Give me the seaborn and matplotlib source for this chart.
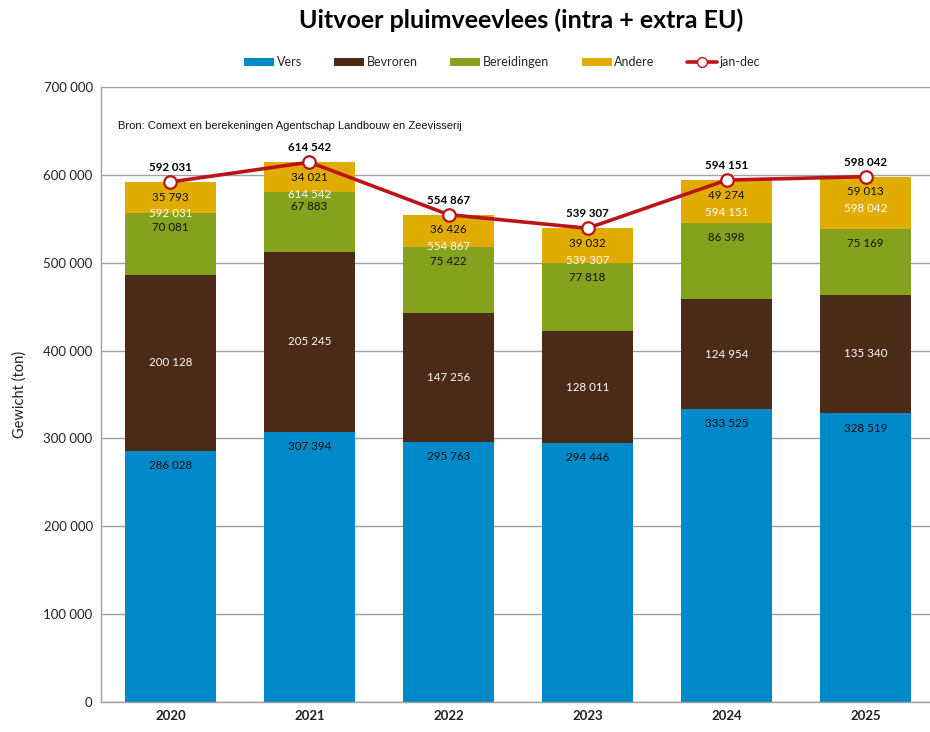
import numpy as np
import pandas as pd
import matplotlib
matplotlib.use("Agg")
import matplotlib.pyplot as plt
from matplotlib.patches import Patch
from matplotlib.lines import Line2D
import seaborn as sns

years = ["2020", "2021", "2022", "2023", "2024", "2025"]
vers = [286028, 307394, 295763, 294446, 333525, 328519]
bevroren = [200128, 205245, 147256, 128011, 124954, 135340]
bereidingen = [70081, 67883, 75422, 77818, 86398, 75169]
andere = [35793, 34021, 36426, 39032, 49274, 59013]
totaal = [592031, 614542, 554867, 539307, 594151, 598042]

series_names = ["Vers", "Bevroren", "Bereidingen", "Andere"]
series_vals = [vers, bevroren, bereidingen, andere]
colors = ["#0089C8", "#4B2A17", "#86A11B", "#E0AC00"]
line_color = "#BA1419"

sns.set_theme(style="white")
plt.rcParams["font.family"] = ["Lato", "DejaVu Sans"]

def fmt(v):
    return f"{v:,}".replace(",", " ")

fig = plt.figure(figsize=(9.30, 7.32), dpi=100)
ax = fig.add_axes([0.1086, 0.041, 0.8914, 0.840])

df = pd.DataFrame({"jaar": years})
bottom = np.zeros(len(years))
for name, vals, col in zip(series_names, series_vals, colors):
    df[name] = vals
    sns.barplot(data=df, x="jaar", y=name, color=col, width=0.65,
                bottom=bottom, ax=ax, saturation=1, linewidth=0, zorder=2)
    bottom = bottom + np.array(vals)

xpos = np.arange(len(years))
sns.lineplot(x=xpos, y=totaal, ax=ax, color=line_color, linewidth=2.6,
             marker="o", markersize=9, markerfacecolor="white",
             markeredgecolor=line_color, markeredgewidth=1.6, zorder=5)

# labels
lab_kw = dict(fontsize=8.3, ha="center", textcoords="offset points")
for i in range(len(years)):
    b0 = 0
    for j, vals in enumerate(series_vals):
        v = vals[i]
        top = b0 + v
        if j == 1:
            ax.annotate(fmt(v), (xpos[i], b0 + v / 2), xytext=(0, 0), va="center",
                        color="white", **lab_kw)
        elif j == 3:
            ax.annotate(fmt(v), (xpos[i], top), xytext=(0, -11), va="center",
                        color="#111111", **lab_kw)
            ax.annotate(fmt(totaal[i]), (xpos[i], top), xytext=(0, -23), va="center",
                        color="white", **lab_kw)
        else:
            ax.annotate(fmt(v), (xpos[i], top), xytext=(0, -10.5), va="center",
                        color="#111111", **lab_kw)
        b0 = top
    ax.annotate(fmt(totaal[i]), (xpos[i], totaal[i]), xytext=(0, 10.5), va="center",
                color="black", fontweight="bold", **lab_kw)

ax.set_ylim(0, 700000)
ax.set_xlim(-0.5, 5.464)
ax.set_yticks(np.arange(0, 700001, 100000))
ax.set_yticklabels([fmt(v) for v in range(0, 700001, 100000)], fontsize=9.5, color="#222222")
ax.set_xticks(xpos)
ax.set_xticklabels(years, fontsize=9.5, fontweight="bold", color="#222222")
ax.set_xlabel("")
ax.set_ylabel("Gewicht (ton)", fontsize=10.5, color="#222222", labelpad=12)
ax.yaxis.grid(True, color="#A0A0A0", linewidth=1.0, zorder=0)
ax.set_axisbelow(True)
for s in ["top", "right"]:
    ax.spines[s].set_visible(False)
for s in ["left", "bottom"]:
    ax.spines[s].set_color("#A0A0A0")
    ax.spines[s].set_linewidth(1.0)
ax.tick_params(axis="both", length=0, pad=6)

ax.text(0.02, 0.937, "Bron: Comext en berekeningen Agentschap Landbouw en Zeevisserij",
        transform=ax.transAxes, fontsize=8, family=["Liberation Sans"], color="#111111",
        va="center")

handles = [Patch(facecolor=c, edgecolor="none") for c in colors]
handles.append(Line2D([0], [0], color=line_color, linewidth=2.6, marker="o",
                      markersize=7, markerfacecolor="white", markeredgecolor=line_color))
fig.legend(handles, series_names + ["jan-dec"], loc="center", ncol=5,
           bbox_to_anchor=(0.54, 0.915), frameon=False, fontsize=9,
           handlelength=2.4, handleheight=0.6, columnspacing=2.6, handletextpad=0.2)

fig.text(0.56, 0.972, "Uitvoer pluimveevlees (intra + extra EU)", ha="center", va="center",
         fontsize=18, fontweight="bold", color="black")

fig.savefig("out.png", dpi=100)
